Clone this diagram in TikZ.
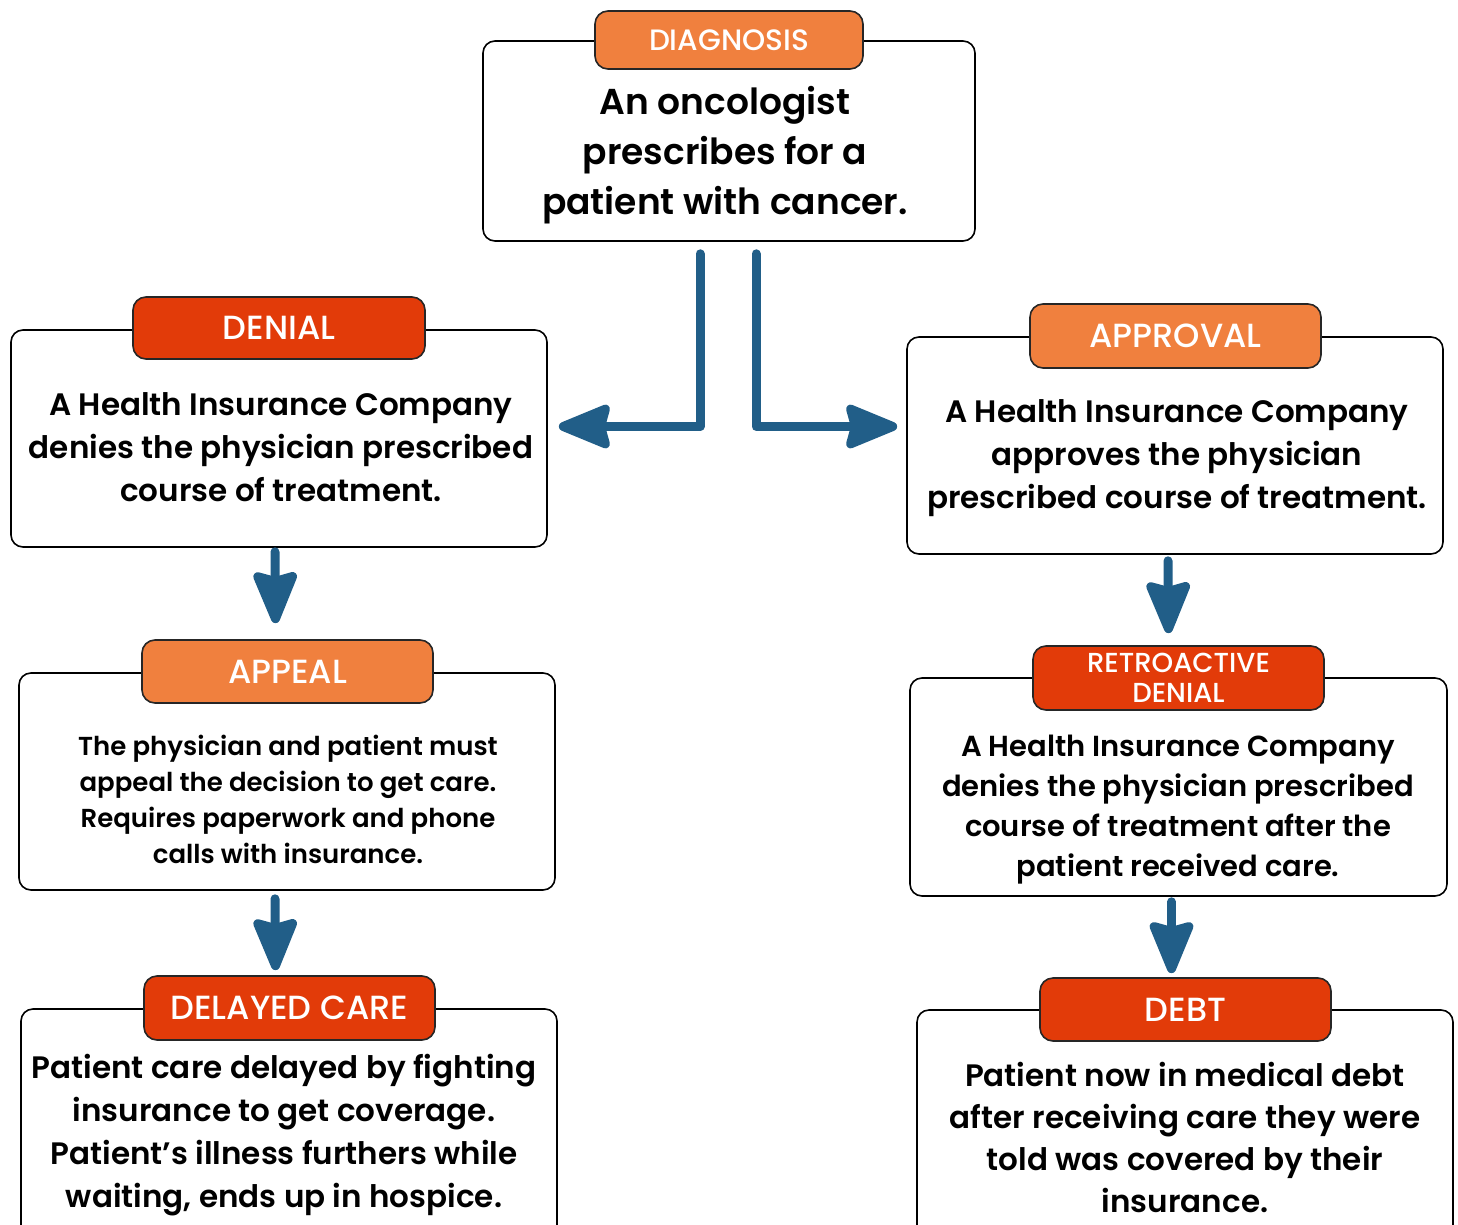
\documentclass[tikz,border=0pt]{standalone}
\usepackage{fontspec}
\setmainfont{Poppins}[UprightFont=* SemiBold]
\newfontfamily\labfont{Poppins}[UprightFont=* Medium]
\usetikzlibrary{arrows.meta,calc}
\definecolor{orng}{HTML}{F0803E}
\definecolor{redd}{HTML}{E23B09}
\definecolor{arrblue}{HTML}{215E88}
\tikzset{
  box/.style={draw=black,line width=1.6pt,rounded corners=12pt,fill=white,inner sep=0pt},
  lab/.style={draw=black!85,line width=1.6pt,rounded corners=13pt,inner sep=0pt,text=white,align=center},
  body/.style={align=center,text=black,inner sep=0pt},
  arr/.style={draw=arrblue,line width=9pt,line cap=round,line join=round,
    -{Stealth[length=60pt,width=48pt,inset=6pt,round]}},
}
\begin{document}
\begin{tikzpicture}[x=1pt,y=-1pt]
\useasboundingbox (0,0) rectangle (1458,1225);
% ---- boxes
\node[box,minimum width=492pt,minimum height=200pt] (diag) at (729,141) {};
\node[box,minimum width=536pt,minimum height=217pt] (den) at (279,438.5) {};
\node[box,minimum width=536pt,minimum height=217pt] (apr) at (1175,445.5) {};
\node[box,minimum width=536pt,minimum height=217pt] (app) at (287,781.5) {};
\node[box,minimum width=537pt,minimum height=218pt] (ret) at (1178.5,787) {};
\node[box,minimum width=536pt,minimum height=240pt] (del) at (289,1129) {};
\node[box,minimum width=536pt,minimum height=240pt] (debt) at (1185,1130) {};
% ---- labels
\node[lab,fill=orng,minimum width=268pt,minimum height=58pt,font=\labfont\fontsize{29.5}{30}\selectfont] (diagL) at (729,40) {DIAGNOSIS};
\node[lab,fill=redd,minimum width=292pt,minimum height=62pt,font=\labfont\fontsize{33.5}{32}\selectfont] (denL) at (279,328) {DENIAL};
\node[lab,fill=orng,minimum width=291pt,minimum height=64pt,font=\labfont\fontsize{33.5}{32}\selectfont] (aprL) at (1175.5,336) {APPROVAL};
\node[lab,fill=orng,minimum width=291pt,minimum height=63pt,font=\labfont\fontsize{33.5}{32}\selectfont] (appL) at (287.5,671.5) {APPEAL};
\node[lab,fill=redd,minimum width=291pt,minimum height=64pt,font=\labfont\fontsize{27.5}{30}\selectfont] (retL) at (1178.5,678) {RETROACTIVE\\DENIAL};
\node[lab,fill=redd,minimum width=291pt,minimum height=64pt,font=\labfont\fontsize{33.5}{32}\selectfont] (delL) at (289.5,1008) {DELAYED CARE};
\node[lab,fill=redd,minimum width=291pt,minimum height=63pt,font=\labfont\fontsize{33.5}{32}\selectfont] (debtL) at (1185.5,1009.5) {DEBT};
% ---- body text
\node[body,font=\fontsize{36}{50}\selectfont] (diagT) at (725,155) {An oncologist\\prescribes for a\\patient with cancer.};
\node[body,font=\fontsize{31}{43}\selectfont] (denT) at (281,447) {A Health Insurance Company\\denies the physician prescribed\\course of treatment.};
\node[body,font=\fontsize{31}{43}\selectfont] (aprT) at (1177,458) {A Health Insurance Company\\approves the physician\\prescribed course of treatment.};
\node[body,font=\fontsize{26}{36}\selectfont] (appT) at (288,799) {The physician and patient must\\appeal the decision to get care.\\Requires paperwork and phone\\calls with insurance.};
\node[body,font=\fontsize{29}{40}\selectfont] (retT) at (1178,810) {A Health Insurance Company\\denies the physician prescribed\\course of treatment after the\\patient received care.};
\node[body,font=\fontsize{31}{43}\selectfont] (delT) at (284,1135.5) {Patient care delayed by fighting\\insurance to get coverage.\\Patient{\char"27}s illness furthers while\\waiting, ends up in hospice.};
\node[body,font=\fontsize{31}{42}\selectfont] (debtT) at (1185,1137) {Patient now in medical debt\\after receiving care they were\\told was covered by their\\insurance.};
% ---- connectors
\coordinate (lTurn) at (700,426);
\coordinate (rTurn) at (756,426);
\draw[arr] (diag.south -| lTurn) ++(0,12) |- ($(den.east)+(11,-12)$);
\draw[arr] (diag.south -| rTurn) ++(0,12) |- ($(apr.west)+(-9,-19)$);
\draw[arr] ($(den.south)+(-4,4)$) -- ($(appL.north)+(-12,-16)$);
\draw[arr] ($(app.south)+(-12,8)$) -- ($(delL.north)+(-14,-5)$);
\draw[arr] ($(apr.south)+(-7,6)$) -- ($(retL.north)+(-10,-12)$);
\draw[arr] ($(ret.south)+(-7,5)$) -- ($(debtL.north)+(-14,-4)$);
\end{tikzpicture}
\end{document}
